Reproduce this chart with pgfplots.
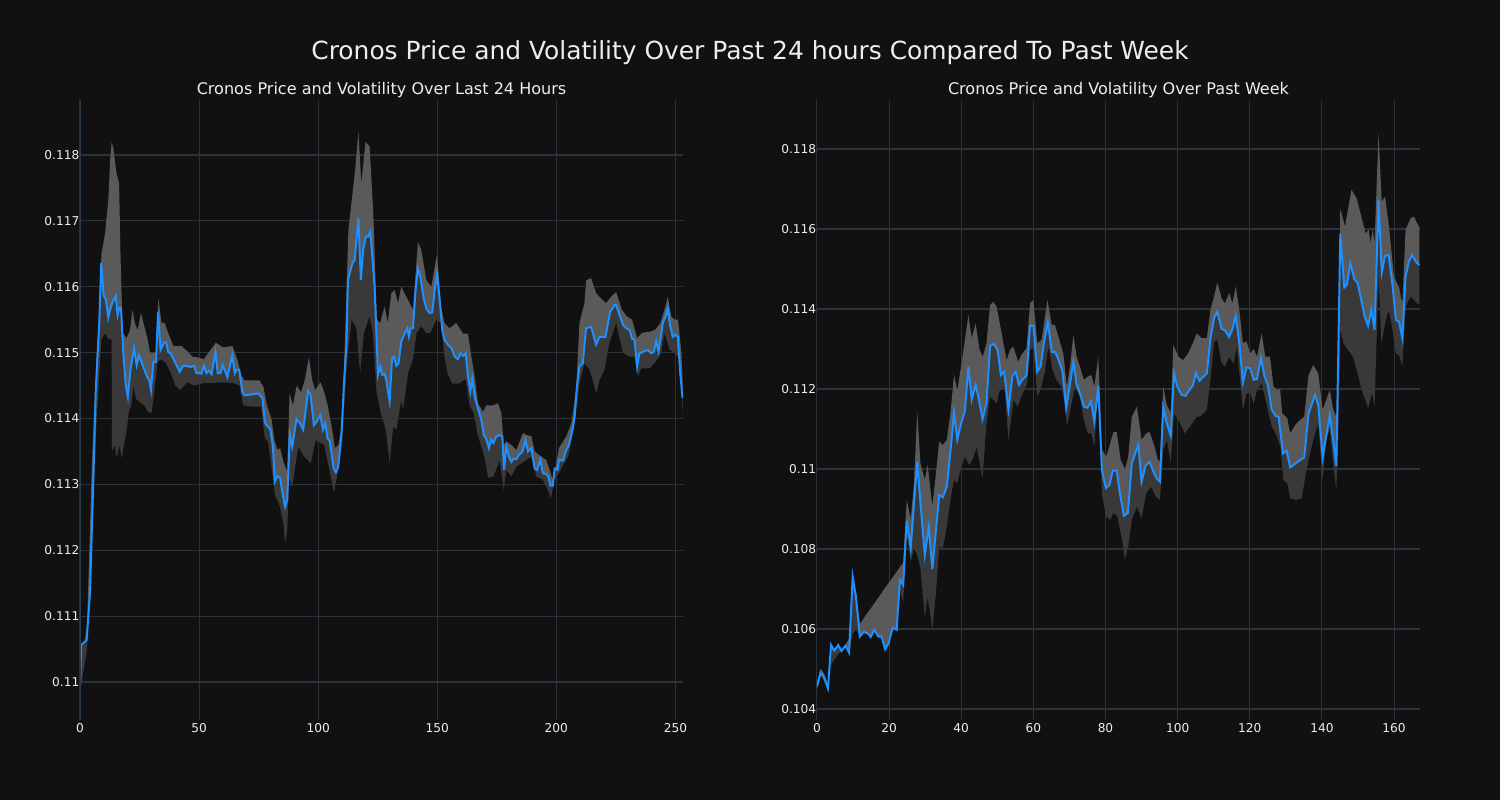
\documentclass[border=0pt]{standalone}
\usepackage{pgfplots}
\pgfplotsset{compat=1.18}
\usepgfplotslibrary{fillbetween}
\usepackage{pgfplotstable}
\usepackage{fontspec}
\setmainfont{DejaVu Sans}
\definecolor{bg}{HTML}{111111}
\definecolor{gridc}{HTML}{2A323C}
\definecolor{spinec}{HTML}{2E3B4B}
\definecolor{linec}{HTML}{1E90FF}
\definecolor{bandhi}{HTML}{5A5A5A}
\definecolor{bandlo}{HTML}{393939}
\definecolor{txt}{HTML}{EEEEEE}

\pgfplotstableread{
x y
0 0.10991
0.5 0.11056
2.8 0.11064
4.2 0.11135
5.6 0.11307
6.6 0.11440
7.3 0.11490
8.1 0.11545
8.9 0.11636
9.9 0.11587
10.9 0.11580
11.9 0.11553
12.6 0.11565
13.5 0.11575
15.0 0.11586
15.8 0.11557
16.5 0.11568
17.2 0.11568
18.2 0.11499
19.2 0.11451
20.1 0.11433
21.2 0.11474
22.7 0.11507
23.8 0.11481
24.8 0.11496
26.6 0.11478
28.2 0.11463
29.1 0.11458
29.8 0.11443
30.8 0.11486
31.9 0.11486
32.8 0.11562
33.8 0.11504
35.2 0.11515
36.1 0.11516
37.0 0.11501
38.0 0.11499
41.9 0.11471
43.3 0.11480
44.7 0.11480
46.4 0.11478
47.9 0.11480
48.9 0.11469
51.0 0.11468
52.0 0.11480
53.1 0.11469
54.0 0.11473
55.2 0.11467
56.9 0.11501
57.8 0.11469
59.0 0.11469
59.9 0.11481
61.9 0.11463
63.9 0.11496
65.0 0.11469
65.7 0.11474
66.8 0.11474
68.2 0.11440
69.2 0.11435
74.8 0.11438
76.6 0.11431
77.6 0.11395
78.3 0.11390
79.9 0.11384
81.0 0.11357
81.8 0.11304
82.8 0.11312
84.0 0.11310
85.0 0.11287
86.1 0.11266
87.0 0.11276
88.1 0.11375
89.1 0.11357
90.9 0.11399
92.3 0.11393
93.7 0.11383
95.8 0.11442
96.8 0.11436
98.2 0.11390
99.3 0.11395
100.9 0.11405
102.0 0.11383
103.0 0.11393
103.9 0.11370
104.9 0.11365
106.5 0.11324
107.4 0.11318
108.4 0.11326
109.8 0.11378
110.9 0.11458
111.9 0.11515
112.5 0.11610
114.4 0.11636
115.3 0.11640
116.9 0.11704
117.9 0.11610
118.9 0.11656
120.0 0.11676
121.0 0.11676
121.9 0.11684
123.7 0.11600
125.1 0.11466
126.1 0.11479
126.9 0.11466
127.9 0.11468
128.6 0.11458
130.0 0.11426
131.0 0.11491
131.8 0.11494
132.8 0.11480
133.7 0.11483
134.9 0.11517
136.3 0.11529
137.4 0.11537
138.1 0.11524
138.8 0.11537
139.8 0.11537
140.9 0.11595
141.9 0.11628
142.9 0.11615
144.3 0.11582
145.4 0.11567
146.8 0.11560
147.9 0.11561
148.9 0.11595
149.9 0.11620
151.0 0.11580
152.1 0.11534
153.1 0.11519
154.5 0.11512
155.9 0.11507
157.3 0.11494
158.7 0.11490
159.8 0.11499
160.8 0.11495
161.9 0.11499
162.9 0.11464
163.9 0.11441
164.7 0.11460
165.7 0.11433
167.1 0.11415
168.5 0.11398
169.5 0.11375
170.6 0.11369
171.7 0.11355
172.6 0.11368
173.6 0.11363
174.7 0.11372
176.2 0.11375
177.3 0.11373
178.0 0.11322
179.0 0.11357
180.1 0.11342
181.1 0.11334
182.1 0.11339
183.2 0.11338
184.3 0.11345
185.7 0.11349
187.0 0.11367
188.1 0.11350
189.5 0.11355
190.9 0.11324
191.9 0.11322
193.3 0.11337
194.3 0.11317
195.5 0.11316
196.6 0.11312
197.5 0.11298
198.5 0.11298
199.3 0.11324
200.5 0.11322
201.1 0.11337
202.8 0.11336
203.9 0.11350
205.3 0.11360
206.8 0.11383
207.7 0.11403
208.6 0.11448
209.7 0.11479
211.1 0.11484
212.5 0.11537
214.6 0.11539
216.7 0.11512
218.1 0.11524
220.6 0.11524
222.6 0.11562
224.4 0.11572
225.1 0.11572
228.0 0.11542
229.3 0.11537
230.7 0.11535
231.8 0.11521
232.8 0.11520
233.9 0.11479
234.9 0.11499
237.0 0.11502
238.4 0.11504
239.8 0.11499
240.9 0.11501
241.9 0.11517
242.9 0.11502
244.7 0.11545
246.1 0.11557
246.8 0.11567
247.8 0.11540
248.9 0.11524
250.0 0.11527
251.0 0.11524
252.0 0.11469
253.0 0.11431
}\leftline

\pgfplotstableread{
x y
0 0.11000
3 0.11090
5 0.11330
7 0.11500
8 0.11560
9 0.11650
10.5 0.11680
11.9 0.11732
12.7 0.11795
13.3 0.11820
14.0 0.11810
15.3 0.11773
16.4 0.11757
17.0 0.11650
17.9 0.11530
19.5 0.11522
21.0 0.11534
22.0 0.11565
23.0 0.11545
24.2 0.11534
25.6 0.11560
27.0 0.11540
28.4 0.11520
29.4 0.11500
30.6 0.11500
31.8 0.11500
32.9 0.11583
34.2 0.11545
35.6 0.11545
37.0 0.11530
39.2 0.11510
42.7 0.11510
44.7 0.11503
47.5 0.11493
49.0 0.11493
52.0 0.11490
57.0 0.11515
60.0 0.11508
64.0 0.11510
66.0 0.11490
67.8 0.11465
69.0 0.11458
75.3 0.11458
77.0 0.11448
78.5 0.11420
80.5 0.11398
81.6 0.11367
82.9 0.11352
84.0 0.11355
85.6 0.11332
87.0 0.11320
88.0 0.11438
89.4 0.11420
91.0 0.11450
92.8 0.11440
94.5 0.11460
96.1 0.11493
97.5 0.11458
98.7 0.11443
100.0 0.11450
101.0 0.11455
102.5 0.11440
104.0 0.11420
106.0 0.11380
107.0 0.11355
108.5 0.11360
110.0 0.11390
111.0 0.11490
112.7 0.11686
115.5 0.11777
116.9 0.11835
118.1 0.11757
119.9 0.11820
121.6 0.11813
123.2 0.11706
124.6 0.11550
126.0 0.11545
127.9 0.11570
129.2 0.11545
130.7 0.11590
132.1 0.11595
133.5 0.11575
134.9 0.11600
136.3 0.11590
139.8 0.11565
141.9 0.11668
143.3 0.11656
145.4 0.11610
147.5 0.11600
149.9 0.11650
151.6 0.11570
153.0 0.11545
155.1 0.11537
157.9 0.11545
160.8 0.11529
162.9 0.11529
164.3 0.11494
165.7 0.11464
167.1 0.11423
169.2 0.11410
170.6 0.11420
173.3 0.11420
175.5 0.11423
176.9 0.11408
177.9 0.11360
179.0 0.11365
181.1 0.11360
183.2 0.11352
186.0 0.11378
187.4 0.11375
189.5 0.11373
190.9 0.11350
193.7 0.11342
195.8 0.11337
198.6 0.11306
201.1 0.11355
204.2 0.11373
206.3 0.11393
208.3 0.11443
209.7 0.11545
211.8 0.11575
212.5 0.11610
214.6 0.11613
216.7 0.11590
218.8 0.11582
220.9 0.11575
223.0 0.11585
225.1 0.11592
227.5 0.11565
229.6 0.11555
231.8 0.11550
233.9 0.11522
236.0 0.11530
239.5 0.11532
241.6 0.11535
243.7 0.11545
245.8 0.11570
246.8 0.11585
248.2 0.11555
249.7 0.11550
251.1 0.11550
252.5 0.11499
253.0 0.11460
}\leftup

\pgfplotstableread{
x y
0 0.10985
3 0.11050
5 0.11220
7 0.11400
8 0.11460
9 0.11520
10.5 0.11530
12.0 0.11520
13.3 0.11520
13.4 0.11350
14.5 0.11360
15.5 0.11340
16.5 0.11360
17.5 0.11340
18.5 0.11360
19.5 0.11380
20.5 0.11410
21.5 0.11420
22.5 0.11450
23.5 0.11430
25.0 0.11425
27.0 0.11420
28.5 0.11410
30.0 0.11408
31.0 0.11435
32.5 0.11485
34.0 0.11490
36.0 0.11485
38.0 0.11470
40.0 0.11450
42.0 0.11443
45.0 0.11455
48.0 0.11450
52.0 0.11454
56.0 0.11454
60.0 0.11455
64.0 0.11454
67.0 0.11450
68.5 0.11420
72.0 0.11418
76.0 0.11418
77.6 0.11370
79.0 0.11365
81.0 0.11310
81.8 0.11284
84.0 0.11266
85.4 0.11241
86.1 0.11211
87.0 0.11230
87.8 0.11310
89.1 0.11296
91.6 0.11357
94.0 0.11343
96.9 0.11332
98.9 0.11367
102.5 0.11360
105.2 0.11313
106.6 0.11287
108.3 0.11320
110.0 0.11360
111.0 0.11420
112.0 0.11480
114.0 0.11550
116.0 0.11537
117.6 0.11469
119.2 0.11530
121.5 0.11555
123.0 0.11530
124.5 0.11440
126.3 0.11408
128.4 0.11383
130.0 0.11332
131.5 0.11388
132.8 0.11383
134.9 0.11428
135.6 0.11413
137.8 0.11470
139.8 0.11490
141.3 0.11530
143.3 0.11540
145.4 0.11530
147.0 0.11530
149.6 0.11550
151.6 0.11545
153.0 0.11494
154.3 0.11469
156.3 0.11453
159.1 0.11453
161.9 0.11460
163.6 0.11420
165.3 0.11408
167.0 0.11375
169.8 0.11342
171.4 0.11310
173.6 0.11312
176.2 0.11337
177.9 0.11291
179.0 0.11322
181.1 0.11312
183.2 0.11327
185.3 0.11332
187.4 0.11337
189.5 0.11342
191.6 0.11312
194.3 0.11307
196.4 0.11292
197.7 0.11279
199.2 0.11307
201.1 0.11317
202.8 0.11329
204.9 0.11342
207.0 0.11378
209.0 0.11428
209.7 0.11453
211.8 0.11484
213.9 0.11474
215.3 0.11458
216.7 0.11438
218.1 0.11458
220.2 0.11474
222.3 0.11515
225.1 0.11545
227.9 0.11500
230.7 0.11494
232.8 0.11494
234.2 0.11464
235.6 0.11476
239.1 0.11476
241.9 0.11487
244.0 0.11499
245.4 0.11530
247.5 0.11505
249.7 0.11499
251.1 0.11494
252.5 0.11443
253.0 0.11408
}\leftlo

\pgfplotstableread{
x y
0 0.10456
1.0 0.10491
1.9 0.10481
3.05 0.10452
3.9 0.10560
4.8 0.10546
5.9 0.10560
6.8 0.10545
7.9 0.10558
8.9 0.10541
9.9 0.10731
10.8 0.10681
11.9 0.10581
13.0 0.10593
14.2 0.10588
14.9 0.10580
15.9 0.10598
17.0 0.10581
17.9 0.10581
18.9 0.10549
19.8 0.10563
21.0 0.10603
22.1 0.10598
23.0 0.10723
23.9 0.10710
24.9 0.10871
26.0 0.10802
26.9 0.10914
27.8 0.11018
28.7 0.10914
29.9 0.10785
31.0 0.10856
32.0 0.10749
33.0 0.10848
33.9 0.10935
34.9 0.10929
36.0 0.10956
37.1 0.11052
38.0 0.11141
38.9 0.11073
40.1 0.11119
41.0 0.11144
42.0 0.11256
42.9 0.11173
44.0 0.11210
45.0 0.11169
45.9 0.11124
47.0 0.11164
48.0 0.11308
49.1 0.11313
50.1 0.11296
51.0 0.11235
51.9 0.11243
53.1 0.11148
54.2 0.11233
55.1 0.11243
56.0 0.11210
56.9 0.11223
58.1 0.11234
59.1 0.11358
60.0 0.11358
61.1 0.11243
62.0 0.11256
62.9 0.11314
64.0 0.11367
65.1 0.11293
66.0 0.11293
66.9 0.11275
68.1 0.11243
69.1 0.11152
69.9 0.11197
71.1 0.11268
72.0 0.11210
72.9 0.11190
74.0 0.11156
75.0 0.11153
76.0 0.11169
76.9 0.11118
78.0 0.11208
79.0 0.10998
80.1 0.10952
81.1 0.10960
82.0 0.10996
83.1 0.10996
84.0 0.10939
85.1 0.10883
86.2 0.10890
87.3 0.11014
88.2 0.11038
89.1 0.11060
90.0 0.10968
91.1 0.11008
92.2 0.11018
93.3 0.10993
94.2 0.10976
95.1 0.10968
96.0 0.11154
97.0 0.11114
98.1 0.11083
99.0 0.11239
99.9 0.11206
101.1 0.11185
102.2 0.11183
103.3 0.11198
104.2 0.11208
105.1 0.11240
106.0 0.11220
107.2 0.11231
108.1 0.11239
109.1 0.11327
110.1 0.11377
111.0 0.11393
112.2 0.11350
113.1 0.11347
114.3 0.11330
115.2 0.11350
116.1 0.11383
117.1 0.11314
118.1 0.11216
119.1 0.11254
120.1 0.11252
121.1 0.11223
122.0 0.11225
123.1 0.11278
124.1 0.11231
125.0 0.11210
126.1 0.11148
127.1 0.11133
128.0 0.11130
129.2 0.11039
130.2 0.11046
131.2 0.11004
133.0 0.11016
135.1 0.11029
136.3 0.11139
138.1 0.11185
139.0 0.11160
140.2 0.11029
142.2 0.11135
143.1 0.11073
144.0 0.11008
145.1 0.11588
146.2 0.11454
146.9 0.11460
147.9 0.11514
149.0 0.11475
149.9 0.11465
150.9 0.11423
151.8 0.11383
152.8 0.11358
153.7 0.11398
154.6 0.11348
155.7 0.11673
156.6 0.11491
157.5 0.11533
158.5 0.11535
159.6 0.11458
160.5 0.11373
161.4 0.11368
162.3 0.11327
163.2 0.11481
164.1 0.11518
165.0 0.11535
166.1 0.11518
167.0 0.11510
}\rightline

\pgfplotstableread{
x y
0 0.10465
1.0 0.10500
1.9 0.10490
3.05 0.10460
3.9 0.10560
4.8 0.10546
5.9 0.10560
6.8 0.10548
7.9 0.10562
8.9 0.10575
9.9 0.10731
10.8 0.10681
11.9 0.10613
13.0 0.10627
14.2 0.10643
14.9 0.10651
15.9 0.10664
17.0 0.10678
17.9 0.10690
18.9 0.10703
19.8 0.10714
21.0 0.10729
22.1 0.10743
23.0 0.10755
23.9 0.10766
24.9 0.10923
26.0 0.10875
26.9 0.10964
27.8 0.11143
28.7 0.11014
29.9 0.10973
30.7 0.11010
32.0 0.10906
33.0 0.10990
33.9 0.11068
34.9 0.11060
36.0 0.11073
37.0 0.11139
38.0 0.11235
38.9 0.11197
40.1 0.11264
42.0 0.11385
42.9 0.11327
44.0 0.11364
45.1 0.11297
46.0 0.11281
47.0 0.11314
48.0 0.11410
48.9 0.11418
49.8 0.11406
50.7 0.11364
51.7 0.11314
52.6 0.11272
53.5 0.11297
54.4 0.11306
55.8 0.11268
56.7 0.11285
58.1 0.11302
59.1 0.11414
60.0 0.11423
61.1 0.11314
62.3 0.11323
63.9 0.11423
65.1 0.11360
66.0 0.11360
67.2 0.11323
68.3 0.11289
69.3 0.11206
70.2 0.11260
71.1 0.11335
72.0 0.11281
72.9 0.11256
74.0 0.11223
75.1 0.11231
76.1 0.11235
76.9 0.11206
78.0 0.11281
79.0 0.11048
80.2 0.11031
81.3 0.11064
82.2 0.11093
83.1 0.11093
84.2 0.11023
85.4 0.11000
86.3 0.11030
87.3 0.11131
88.7 0.11156
90.0 0.11073
91.3 0.11089
92.2 0.11093
93.6 0.11056
94.5 0.11023
95.1 0.11018
96.0 0.11206
97.0 0.11160
98.1 0.11140
98.8 0.11310
100.2 0.11281
101.5 0.11272
102.9 0.11289
104.2 0.11314
105.3 0.11339
106.7 0.11327
108.1 0.11327
109.1 0.11398
110.1 0.11431
111.0 0.11466
112.2 0.11427
113.1 0.11414
114.3 0.11440
115.2 0.11414
116.1 0.11456
117.1 0.11398
118.1 0.11314
119.1 0.11319
120.1 0.11289
121.1 0.11300
122.0 0.11281
123.3 0.11339
124.3 0.11281
125.6 0.11281
126.6 0.11206
127.5 0.11198
128.4 0.11200
129.0 0.11139
130.4 0.11127
131.2 0.11089
132.6 0.11110
134.0 0.11123
135.1 0.11131
136.3 0.11235
137.6 0.11260
139.0 0.11239
140.2 0.11148
142.2 0.11198
143.1 0.11150
144.0 0.11130
144.5 0.11190
145.1 0.11652
146.4 0.11606
148.2 0.11698
149.6 0.11677
150.7 0.11639
152.1 0.11589
153.0 0.11598
153.5 0.11564
154.1 0.11602
154.6 0.11564
155.7 0.11839
156.6 0.11668
157.5 0.11681
158.5 0.11614
160.0 0.11480
161.4 0.11454
162.3 0.11414
163.2 0.11598
164.6 0.11627
165.5 0.11631
166.4 0.11614
167.0 0.11605
}\rightup

\pgfplotstableread{
x y
0 0.10447
1.0 0.10482
1.9 0.10472
3.05 0.10445
3.9 0.10511
4.8 0.10523
5.9 0.10537
6.8 0.10545
7.9 0.10558
8.9 0.10541
9.9 0.10588
10.8 0.10599
11.9 0.10581
13.0 0.10593
14.2 0.10588
14.9 0.10580
15.9 0.10598
17.0 0.10581
17.9 0.10581
18.9 0.10549
19.8 0.10563
21.0 0.10603
22.1 0.10598
23.0 0.10700
23.9 0.10665
24.9 0.10835
26.0 0.10768
26.9 0.10802
27.8 0.10785
28.7 0.10752
29.9 0.10631
30.7 0.10681
32.0 0.10598
33.0 0.10690
33.9 0.10806
34.9 0.10802
36.0 0.10856
37.0 0.10923
38.0 0.10973
38.9 0.10964
39.8 0.10998
41.0 0.11030
42.3 0.11010
43.3 0.11027
44.3 0.11056
45.9 0.10977
47.0 0.11114
48.0 0.11181
49.8 0.11164
50.7 0.11198
52.0 0.11206
53.1 0.11073
54.5 0.11173
55.6 0.11156
57.0 0.11189
58.3 0.11214
59.1 0.11298
60.0 0.11302
61.1 0.11181
62.0 0.11198
63.2 0.11243
64.2 0.11306
65.3 0.11248
66.4 0.11223
67.8 0.11206
68.8 0.11156
69.3 0.11106
70.4 0.11156
71.5 0.11206
72.9 0.11181
74.0 0.11123
75.1 0.11089
76.1 0.11089
76.9 0.11056
78.0 0.11206
79.0 0.10939
80.2 0.10881
81.3 0.10873
82.2 0.10890
83.3 0.10881
84.6 0.10823
85.4 0.10773
86.3 0.10806
87.3 0.10873
88.7 0.10906
90.0 0.10877
91.3 0.10939
92.6 0.10956
94.0 0.10931
95.1 0.10923
96.0 0.11048
97.0 0.11073
98.1 0.11014
99.0 0.11139
100.7 0.11114
102.0 0.11089
103.4 0.11106
105.3 0.11131
106.2 0.11131
108.1 0.11148
109.1 0.11223
110.1 0.11318
111.0 0.11323
112.2 0.11264
113.1 0.11256
114.3 0.11281
115.5 0.11264
116.4 0.11306
117.3 0.11223
118.1 0.11148
119.1 0.11189
120.1 0.11189
121.1 0.11164
122.0 0.11198
123.3 0.11214
125.0 0.11148
126.1 0.11106
127.4 0.11085
128.5 0.11056
129.3 0.10973
130.4 0.10964
131.2 0.10927
133.0 0.10923
134.4 0.10927
135.4 0.10981
136.3 0.11023
137.6 0.11073
139.0 0.11114
140.2 0.10973
141.3 0.11081
142.2 0.11098
143.1 0.11014
144.0 0.10948
144.5 0.11056
145.1 0.11350
146.0 0.11314
147.2 0.11298
148.6 0.11281
149.9 0.11239
151.0 0.11198
152.4 0.11164
152.8 0.11152
153.9 0.11189
154.6 0.11156
155.7 0.11481
156.5 0.11314
157.5 0.11364
158.5 0.11398
159.6 0.11348
160.5 0.11289
161.4 0.11285
162.3 0.11256
163.2 0.11406
164.6 0.11431
165.5 0.11423
166.4 0.11414
167.0 0.11410
}\rightlo

\pgfplotsset{
  darkax/.style={
    scale only axis,
    width=434.2bp, height=446.4bp,
    axis line style={draw=none},
    grid=major,
    major grid style={gridc, line width=0.75bp},
    major tick length=0pt,
    tick label style={text=txt, font=\fontsize{8.8}{10}\selectfont},
    /pgf/number format/assume math mode=true,
    yticklabel style={/pgf/number format/fixed, /pgf/number format/precision=3, xshift=3bp},
    scaled y ticks=false,
    xticklabel style={yshift=0.7bp},
  },
}

\begin{document}%
\pagecolor{bg}%
\begin{tikzpicture}
\path (0,0) rectangle (1080bp,576bp);
\node[text=txt, font=\fontsize{18}{21}\selectfont] at (540bp,538bp) {Cronos Price and Volatility Over Past 24 hours Compared To Past Week};
\node[text=txt, font=\fontsize{11.6}{14}\selectfont] at (274.7bp,510.8bp) {Cronos Price and Volatility Over Last 24 Hours};
\node[text=txt, font=\fontsize{11.6}{14}\selectfont] at (805.3bp,510.8bp) {Cronos Price and Volatility Over Past Week};

\begin{axis}[darkax, at={(57.6bp,57.6bp)}, anchor=south west,
  xmin=0, xmax=253.2, ymin=0.109423, ymax=0.118835,
  xtick={0,50,100,150,200,250},
  ytick={0.110,0.111,0.112,0.113,0.114,0.115,0.116,0.117,0.118}]
\addplot[name path=lu, draw=none, forget plot] table {\leftup};
\addplot[name path=ll, draw=none, forget plot] table {\leftlo};
\addplot[name path=lm, draw=none, forget plot] table {\leftline};
\addplot[bandhi, draw=none] fill between[of=lu and lm];
\addplot[bandlo, draw=none] fill between[of=lm and ll];
\addplot[linec, line width=1.4bp] table {\leftline};
\draw[spinec, line width=0.75bp] (rel axis cs:0,0) -- (rel axis cs:0,1);
\end{axis}

\begin{axis}[darkax, at={(588.2bp,57.6bp)}, anchor=south west,
  xmin=0, xmax=167.2, ymin=0.103725, ymax=0.119225,
  xtick={0,20,40,60,80,100,120,140,160},
  ytick={0.104,0.106,0.108,0.110,0.112,0.114,0.116,0.118}]
\addplot[name path=ru, draw=none, forget plot] table {\rightup};
\addplot[name path=rl, draw=none, forget plot] table {\rightlo};
\addplot[name path=rm, draw=none, forget plot] table {\rightline};
\addplot[bandhi, draw=none] fill between[of=ru and rm];
\addplot[bandlo, draw=none] fill between[of=rm and rl];
\addplot[linec, line width=1.4bp] table {\rightline};
\draw[spinec, line width=0.75bp] (rel axis cs:0,0) -- (rel axis cs:0,1);
\end{axis}
\end{tikzpicture}%
\end{document}
